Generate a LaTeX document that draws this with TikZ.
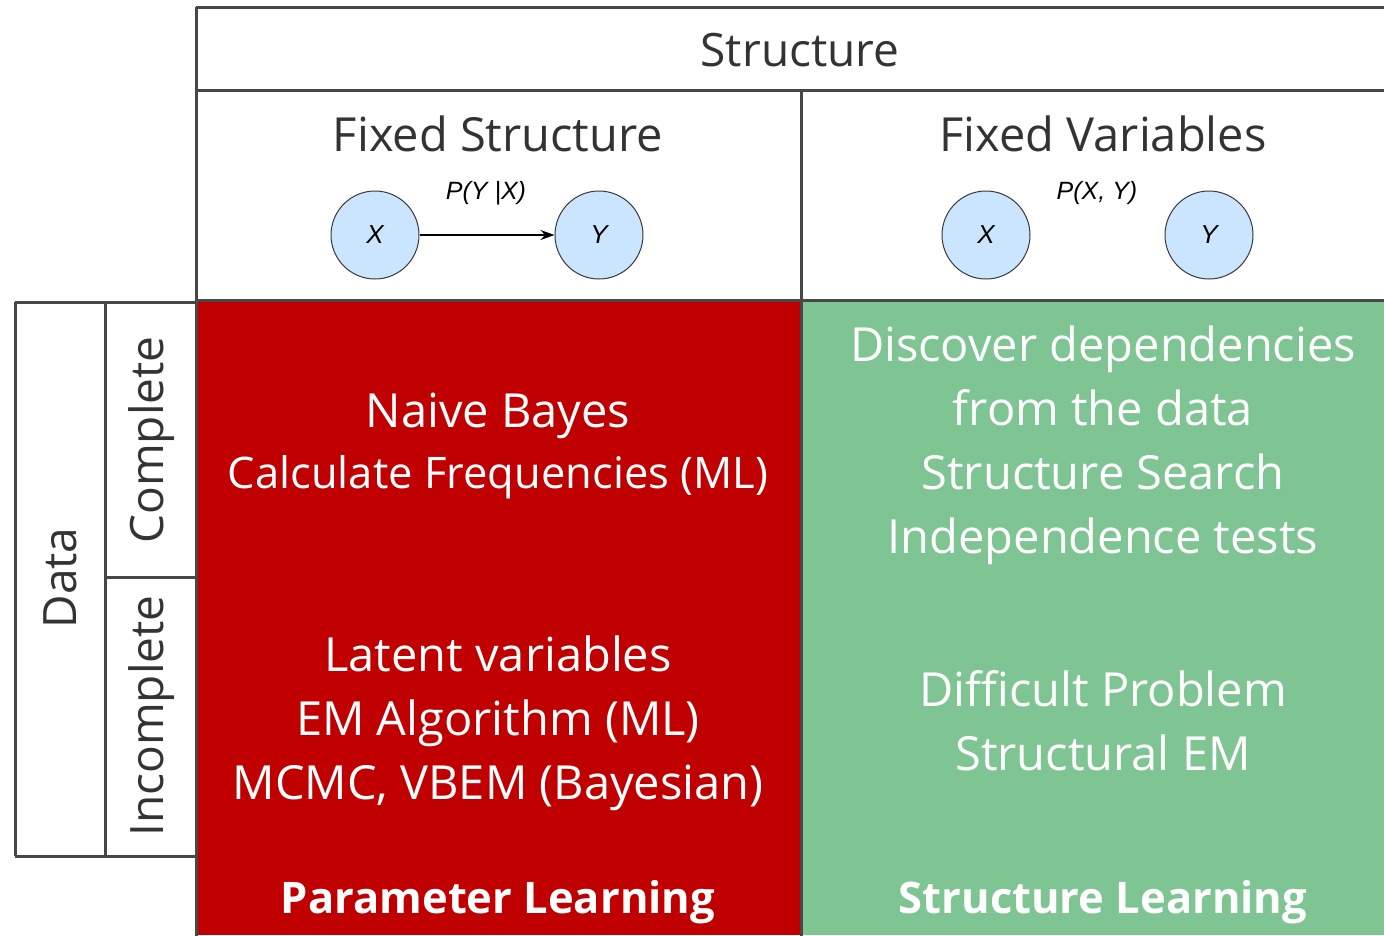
\documentclass[tikz,border=0pt]{standalone}
\usepackage{fontspec}
\setmainfont{Open Sans}
\newfontfamily\arialfont{Liberation Sans}
\usetikzlibrary{arrows.meta}
\definecolor{gridline}{HTML}{474747}
\definecolor{paramred}{HTML}{C00000}
\definecolor{structgreen}{HTML}{7FC493}
\definecolor{nodeblue}{HTML}{CCE5FF}
\definecolor{nodeedge}{HTML}{36393D}
\definecolor{labelgray}{HTML}{333333}
\tikzset{
  gridrule/.style={draw=gridline, line width=3pt},
  headtext/.style={text=labelgray, font=\fontsize{46}{62}\selectfont, inner sep=0pt},
  celltext/.style={text=white, align=center, font=\fontsize{47}{64}\selectfont, inner sep=0pt},
  titletext/.style={text=white, font=\fontsize{43.5}{60}\selectfont\bfseries, inner sep=0pt},
  varnode/.style={circle, draw=nodeedge, line width=1pt, fill=nodeblue, minimum size=88pt, inner sep=0pt,
                  font=\arialfont\itshape\fontsize{26}{30}\selectfont},
  problabel/.style={font=\arialfont\itshape\fontsize{25}{30}\selectfont, inner sep=0pt},
  edgearrow/.style={-{Stealth[length=14pt, width=10pt]}, line width=1.5pt, black}
}
\begin{document}
\begin{tikzpicture}[x=1pt, y=-1pt]
\useasboundingbox (0,0) rectangle (1384,935);

% coloured learning quadrants
\fill[paramred] (197,302) rectangle (801,935);
\fill[structgreen] (801,302) rectangle (1384,935);

% header grid
\draw[gridrule] (196,7) -- (1390,7);
\draw[gridrule] (196,90) -- (1390,90);
\draw[gridrule] (196,300) -- (1390,300);
\draw[gridrule] (196,7) -- (196,940);
\draw[gridrule] (801,90) -- (801,940);

% data side panel
\draw[gridrule] (15,302) -- (196,302);
\draw[gridrule] (15,856) -- (196,856);
\draw[gridrule] (105,577) -- (196,577);
\draw[gridrule] (15,302) -- (15,856);
\draw[gridrule] (105,302) -- (105,856);

% headings
\node[headtext] (structure) at (800,50) {Structure};
\node[headtext, font=\fontsize{47}{62}\selectfont] (fixedstruct) at (498,134) {Fixed Structure};
\node[headtext, font=\fontsize{47}{62}\selectfont] (fixedvars) at (1103,134) {Fixed Variables};
\node[headtext, rotate=90] (data) at (60,578) {Data};
\node[headtext, rotate=90] (complete) at (152,440) {Complete};
\node[headtext, rotate=90] (incomplete) at (152,716) {Incomplete};

% fixed structure graph
\node[varnode] (x1) at (375,235) {X};
\node[varnode] (y1) at (599,235) {Y};
\draw[edgearrow] (x1) -- (y1);
\node[problabel] (pyx) at (486,193) {P(Y |X)};

% fixed variables graph
\node[varnode] (x2) at (986,235) {X};
\node[varnode] (y2) at (1209,235) {Y};
\node[problabel] (pxy) at (1097,193) {P(X, Y)};

% parameter learning cells
\node[celltext, font=\fontsize{47}{61}\selectfont] (naive) at (498,446)
  {Naive Bayes\\{\fontsize{43.5}{61}\selectfont Calculate Frequencies (ML)}};
\node[celltext] (latent) at (498,723) {Latent variables\\EM Algorithm (ML)\\MCMC, VBEM (Bayesian)};
\node[titletext] (paramlearn) at (498,902) {Parameter Learning};

% structure learning cells
\node[celltext] (discover) at (1103,445) {Discover dependencies\\from the data\\Structure Search\\Independence tests};
\node[celltext] (difficult) at (1103,721) {Difficult Problem\\Structural EM};
\node[titletext] (structlearn) at (1103,902) {Structure Learning};
\end{tikzpicture}
\end{document}
